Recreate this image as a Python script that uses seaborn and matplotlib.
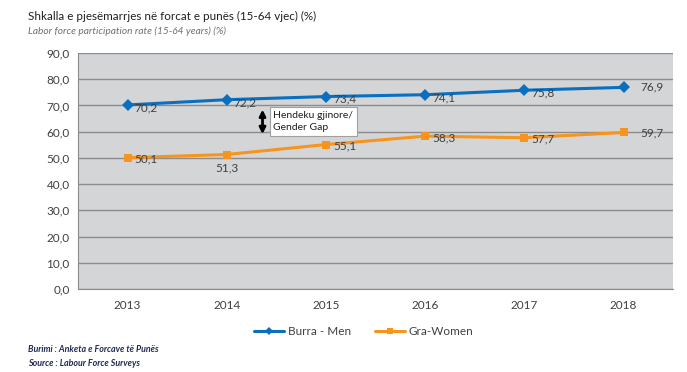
import matplotlib.pyplot as plt
import seaborn as sns
import pandas as pd

years = [2013, 2014, 2015, 2016, 2017, 2018]
men = [70.2, 72.2, 73.4, 74.1, 75.8, 76.9]
women = [50.1, 51.3, 55.1, 58.3, 57.7, 59.7]
yticks = [0, 10, 20, 30, 40, 50, 60, 70, 80, 90]

sns.set_style("white")
plt.rcParams['font.family'] = ['Lato', 'DejaVu Sans']

df = pd.DataFrame({"year": years, "Burra - Men": men, "Gra-Women": women})
long = df.melt(id_vars="year", var_name="series", value_name="value")

fig = plt.figure(figsize=(6.87, 3.72), dpi=100)
ax = fig.add_axes([0.1135, 0.223, 0.8665, 0.6345])
ax.set_facecolor("#D4D5D7")

blue = "#0B6FBF"
orange = "#F7941E"
sns.lineplot(data=long, x="year", y="value", hue="series", style="series",
             markers={"Burra - Men": "D", "Gra-Women": "s"}, dashes=False,
             palette={"Burra - Men": blue, "Gra-Women": orange},
             markersize=6, linewidth=2.2, markeredgewidth=0, ax=ax)

ax.set_xlim(2012.5, 2018.5)
ax.set_ylim(0, 90)
ax.set_yticks(yticks)
ax.set_yticklabels([f"{v:.1f}".replace(".", ",") for v in yticks])
ax.set_xticks(years)
ax.yaxis.grid(True, color="#8C8C8C", linewidth=1)
ax.tick_params(axis="both", labelsize=8.5, colors="#404040", length=0, pad=4)
ax.tick_params(axis="y", length=4, color="#8C8C8C", direction="out", pad=2)
ax.tick_params(axis="x", pad=8)
for s in ["top", "right"]:
    ax.spines[s].set_visible(False)
ax.spines["left"].set_color("#8C8C8C")
ax.spines["bottom"].set_color("#8C8C8C")
ax.set_xlabel("")
ax.set_ylabel("")

for i, (x, v) in enumerate(zip(years, men)):
    dx = 12 if i == 5 else 5
    dy = 0 if i == 5 else -2
    ax.annotate(f"{v:.1f}".replace(".", ","), (x, v), xytext=(dx, dy),
                textcoords="offset points", fontsize=8.5, color="#404040", va="center")
for i, (x, v) in enumerate(zip(years, women)):
    if i == 1:
        ax.annotate(f"{v:.1f}".replace(".", ","), (x, v), xytext=(0, -10),
                    textcoords="offset points", fontsize=8.5, color="#404040", ha="center", va="center")
    else:
        dx = 12 if i == 5 else 5
        dy = 0 if i == 5 else -1
        ax.annotate(f"{v:.1f}".replace(".", ","), (x, v), xytext=(dx, dy),
                    textcoords="offset points", fontsize=8.5, color="#404040", va="center")

# gender gap arrow and box
ax.annotate("", xy=(2014.36, 58.0), xytext=(2014.36, 69.5),
            arrowprops=dict(arrowstyle="<|-|>", color="black", lw=2, mutation_scale=9))
ax.text(2014.47, 63.9, "Hendeku gjinore/\nGender Gap", fontsize=7.5, color="#202020",
        va="center", ha="left", linespacing=1.5,
        bbox=dict(boxstyle="square,pad=0.35", fc="white", ec="#A0A0A0", lw=0.8))

leg = ax.legend(loc="upper center", bbox_to_anchor=(0.48, -0.11), ncol=2, frameon=False,
                fontsize=8.5, handlelength=2.6, columnspacing=2.0, markerscale=0.75,
                handletextpad=0.3)
for t in leg.get_texts():
    t.set_color("#404040")

fig.text(0.041, 0.955, "Shkalla e pjesëmarrjes në forcat e punës (15-64 vjec) (%)",
         fontsize=8.4, color="#202020", va="center")
fig.text(0.041, 0.917, "Labor force participation rate (15-64 years) (%)",
         fontsize=7.3, color="#707070", style="italic", va="center")
fig.text(0.041, 0.06, "Burimi : Anketa e Forcave të Punës", fontsize=6.4,
         color="#1F2A50", style="italic", weight="bold", va="center")
fig.text(0.041, 0.022, "Source : Labour Force Surveys", fontsize=6.4,
         color="#1F2A50", style="italic", weight="bold", va="center")

fig.savefig("out.png", dpi=100)
